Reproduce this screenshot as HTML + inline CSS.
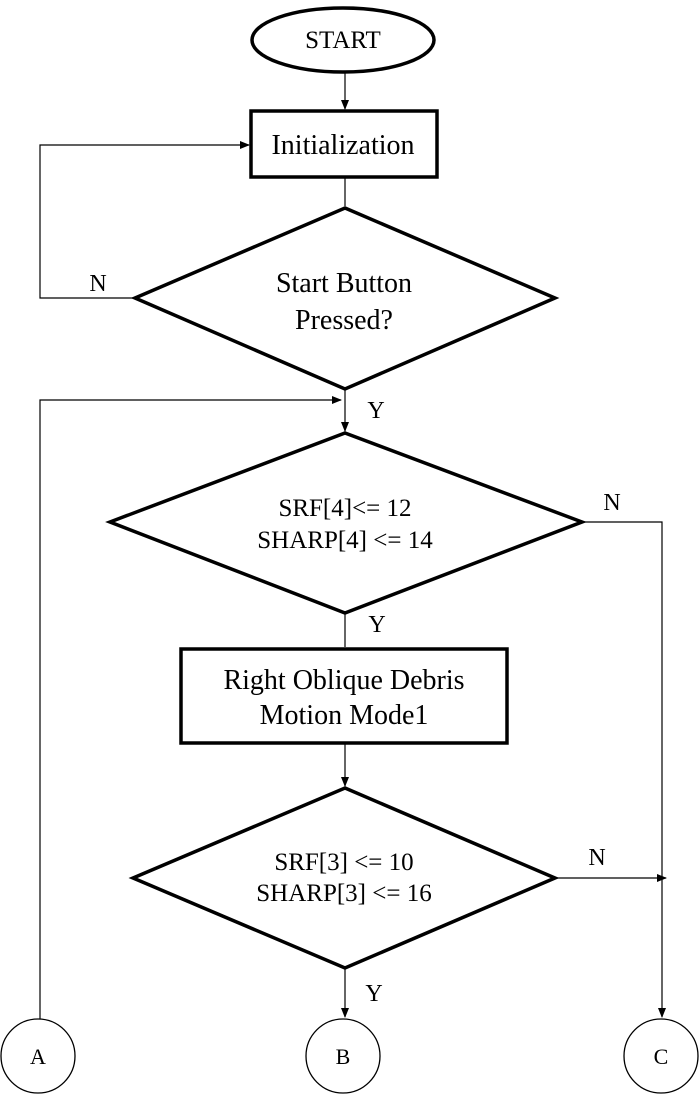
<!DOCTYPE html>
<html><head><meta charset="utf-8"><style>
html,body{margin:0;padding:0;background:#fff;}
svg text{font-family:"Liberation Serif",serif;fill:#000;}
</style></head><body>
<svg width="700" height="1094" viewBox="0 0 700 1094" xmlns="http://www.w3.org/2000/svg">
<defs><marker id="ar" markerWidth="10" markerHeight="10" refX="9" refY="5" orient="auto" markerUnits="userSpaceOnUse"><path d="M0,1 L10,5 L0,9 Z" fill="#000"/></marker></defs>
<g fill="none" stroke="#000">
<ellipse cx="343" cy="40" rx="91" ry="32" stroke-width="3.5"/>
<rect x="251" y="111" width="186" height="66" stroke-width="3.5"/>
<polygon points="345,208 555,298 345,389 135,298" stroke-width="3.5"/>
<polygon points="345,433 582,522 345,613 110,522" stroke-width="3.5"/>
<rect x="181" y="649" width="326" height="94" stroke-width="3.5"/>
<polygon points="345,788 555,878 345,968 133,878" stroke-width="3.5"/>
<circle cx="38" cy="1056" r="37" stroke-width="1.3"/>
<circle cx="343" cy="1056" r="37" stroke-width="1.3"/>
<circle cx="661" cy="1056" r="37" stroke-width="1.3"/>
<g stroke-width="1.2">
<line x1="345" y1="73" x2="345" y2="109" marker-end="url(#ar)"/>
<line x1="345" y1="178" x2="345" y2="206"/>
<polyline points="135,298 40,298 40,145 249,145" marker-end="url(#ar)"/>
<line x1="345" y1="390" x2="345" y2="431" marker-end="url(#ar)"/>
<polyline points="40,1019 40,400 341,400" marker-end="url(#ar)"/>
<polyline points="582,522 662,522 662,1017" marker-end="url(#ar)"/>
<line x1="345" y1="614" x2="345" y2="647"/>
<line x1="345" y1="744" x2="345" y2="786" marker-end="url(#ar)"/>
<line x1="555" y1="878" x2="666" y2="878" marker-end="url(#ar)"/>
<line x1="345" y1="969" x2="345" y2="1017" marker-end="url(#ar)"/>
</g>
</g>
<g font-size="28" text-anchor="middle">
<text x="343" y="48" font-size="25">START</text>
<text x="343" y="154">Initialization</text>
<text x="344" y="292">Start Button</text>
<text x="344" y="329">Pressed?</text>
<text x="345" y="516" font-size="25">SRF[4]&lt;= 12</text>
<text x="345" y="548" font-size="25">SHARP[4] &lt;= 14</text>
<text x="344" y="689">Right Oblique Debris</text>
<text x="344" y="724">Motion Mode1</text>
<text x="344" y="870" font-size="25">SRF[3] &lt;= 10</text>
<text x="344" y="901" font-size="25">SHARP[3] &lt;= 16</text>
<text x="98" y="291" font-size="24">N</text>
<text x="376" y="418" font-size="24">Y</text>
<text x="612" y="510" font-size="24">N</text>
<text x="377" y="632" font-size="24">Y</text>
<text x="597" y="865" font-size="24">N</text>
<text x="374" y="1001" font-size="24">Y</text>
<text x="38" y="1064" font-size="22">A</text>
<text x="343" y="1064" font-size="22">B</text>
<text x="661" y="1064" font-size="22">C</text>
</g>
</svg>
</body></html>
